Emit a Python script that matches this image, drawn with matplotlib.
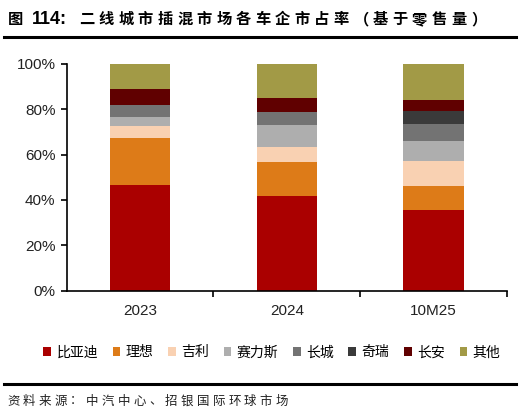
import matplotlib
matplotlib.use("Agg")
import matplotlib.pyplot as plt
import numpy as np

plt.rcParams['font.family'] = ['Liberation Sans', 'Noto Sans CJK SC', 'DejaVu Sans']

periods = ["2023", "2024", "10M25"]
brands = ["比亚迪", "理想", "吉利", "赛力斯", "长城", "奇瑞", "长安", "其他"]
share = {
    "比亚迪": [46.5, 41.9, 35.7],
    "理想": [20.9, 14.7, 10.6],
    "吉利": [5.3, 6.8, 10.9],
    "赛力斯": [4.0, 9.7, 8.8],
    "长城": [5.0, 5.6, 7.5],
    "奇瑞": [0.0, 0.0, 5.6],
    "长安": [7.4, 6.3, 5.1],
    "其他": [11.0, 15.0, 15.7],
}
colors = ["#AA0000", "#DD7B18", "#F9D1B2", "#AEAEAE", "#737373", "#3A3A3A", "#600000", "#A29A46"]

W, H = 520, 418


def spaced(fig, x0, y, s, pitch, **kw):
    # CJK text with wide letter spacing, one glyph at a time (pixel units)
    for i, ch in enumerate(s):
        fig.text((x0 + i * pitch) / W, 1 - y / H, ch, va="center", **kw)


fig = plt.figure(figsize=(5.2, 4.18), dpi=100)
ax = fig.add_axes([0.128, 0.305, 0.847, 0.542])

x = np.arange(len(periods))
bottom = np.zeros(len(periods))
for name, c in zip(brands, colors):
    vals = np.array(share[name])
    ax.bar(x, vals, 0.41, bottom=bottom, color=c, label=name)
    bottom += vals

ax.set_xlim(-0.5, 2.5)
ax.set_ylim(0, 100)
ax.set_yticks(range(0, 101, 20))
ax.set_yticklabels([f"{v}%" for v in range(0, 101, 20)], fontsize=11, color="#222222")
ax.set_xticks(x)
ax.set_xticklabels(periods, fontsize=11, color="#222222")
ax.set_xticks([0.5, 1.5, 2.5], minor=True)
ax.tick_params(axis="x", which="major", length=0, pad=10)
ax.tick_params(axis="x", which="minor", length=4, width=1.2, direction="out")
ax.tick_params(axis="y", length=4, width=1.2, direction="out", pad=4)
for s in ["top", "right"]:
    ax.spines[s].set_visible(False)
for s in ["left", "bottom"]:
    ax.spines[s].set_linewidth(1.2)

ax.legend(loc="center", bbox_to_anchor=(0.466, -0.273), ncol=8, frameon=False,
          handlelength=0.55, handleheight=0.55, handletextpad=0.4, columnspacing=1.05,
          prop={'family': 'Noto Sans CJK SC', 'size': 10})

fig.text(8 / W, 1 - 19 / H, "图", fontsize=11, fontweight="bold", family="Noto Sans CJK SC", va="center")
fig.text(32 / W, 1 - 19 / H, "114:", fontsize=13, fontweight="bold", family="Liberation Sans", va="center")
spaced(fig, 79, 19, "二线城市插混市场各车企市占率（基于零售量）", 19.6,
       fontsize=11, fontweight="bold", family="Noto Sans CJK SC")
fig.add_artist(plt.Line2D([0.008, 0.992], [0.911, 0.911], color="black", lw=2.2))
fig.add_artist(plt.Line2D([0.008, 0.992], [0.081, 0.081], color="black", lw=2.2))
spaced(fig, 7, 401, "资料来源：中汽中心、招银国际环球市场", 15.8,
       fontsize=9, family="Noto Sans CJK SC", color="#222222")

fig.savefig("out.png", dpi=100)
